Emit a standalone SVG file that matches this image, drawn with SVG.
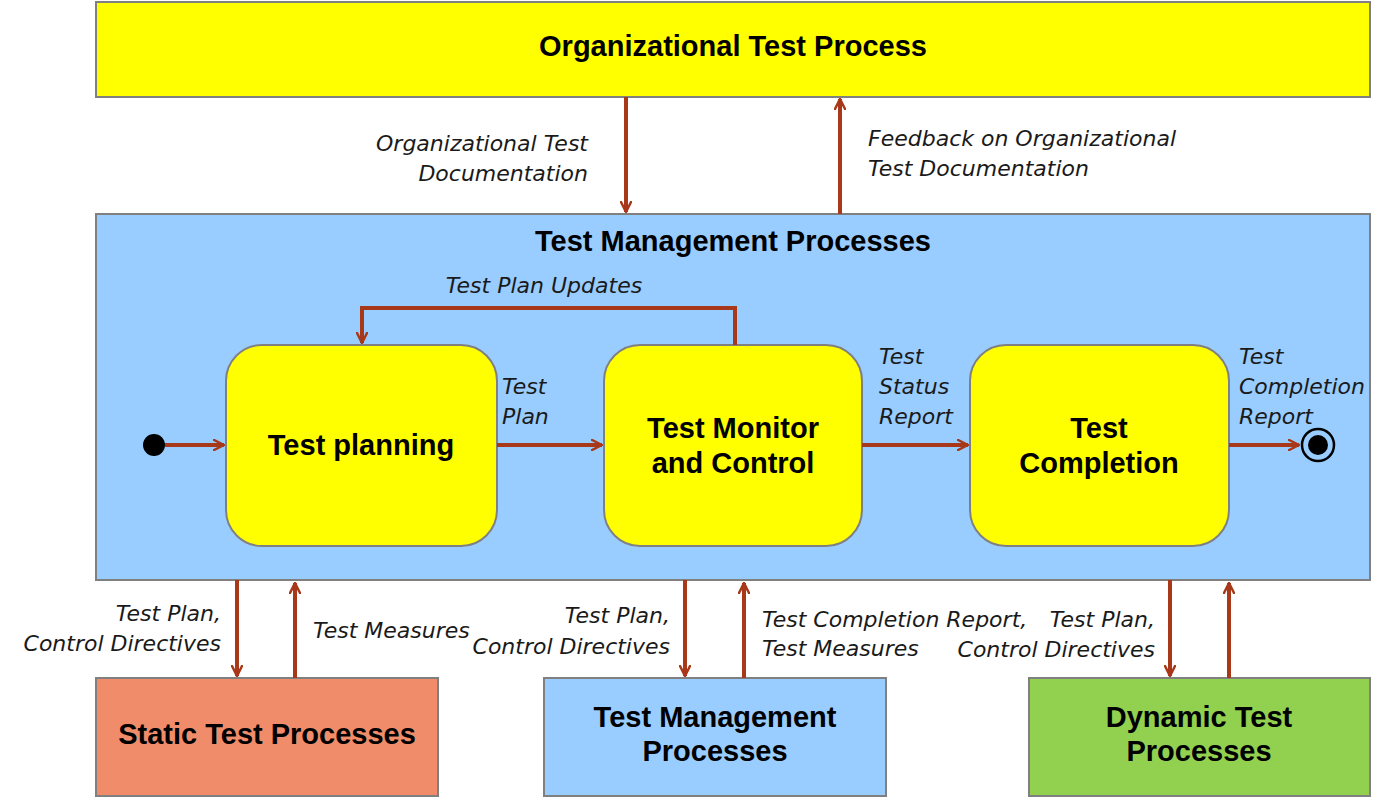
<svg xmlns="http://www.w3.org/2000/svg" width="1396" height="798" viewBox="0 0 1396 798">
<defs>
<marker id="ah" viewBox="0 0 12 12" refX="11" refY="6" markerWidth="12" markerHeight="12" markerUnits="userSpaceOnUse" orient="auto">
<path d="M1,1 L11,6 L1,11" fill="none" stroke="#A8381A" stroke-width="2.5" stroke-linecap="round" stroke-linejoin="round"/>
</marker>
<style>
.box{stroke:#808080;stroke-width:2}
.t{font-family:"Liberation Sans",Arial,sans-serif;font-weight:bold;font-size:29px;fill:#000;text-anchor:middle}
.l{font-family:"DejaVu Sans",Verdana,sans-serif;font-style:italic;font-size:22px;fill:#1a1a1a}
.c{fill:none;stroke:#A8381A;stroke-width:4;marker-end:url(#ah)}
</style>
</defs>
<rect width="1396" height="798" fill="#fff"/>
<g id="org"><rect class="box" x="96" y="2" width="1274" height="95" fill="#FFFF00"/><text class="t" x="733" y="56">Organizational Test Process</text></g>
<g id="tmp"><rect class="box" x="96" y="214" width="1274" height="366" fill="#99CCFF"/><text class="t" x="733" y="251">Test Management Processes</text></g>
<g id="planning"><rect class="box" x="226" y="345" width="271" height="201" rx="36" fill="#FFFF00"/><text class="t" x="361" y="455">Test planning</text></g>
<g id="monitor"><rect class="box" x="604" y="345" width="258" height="201" rx="36" fill="#FFFF00"/><text class="t" x="733" y="438">Test Monitor</text><text class="t" x="733" y="473">and Control</text></g>
<g id="completion"><rect class="box" x="970" y="345" width="259" height="201" rx="36" fill="#FFFF00"/><text class="t" x="1099" y="438">Test</text><text class="t" x="1099" y="473">Completion</text></g>
<g id="static"><rect class="box" x="96" y="678" width="342" height="118" fill="#F08C6A"/><text class="t" x="267" y="744">Static Test Processes</text></g>
<g id="tmp2"><rect class="box" x="544" y="678" width="342" height="118" fill="#99CCFF"/><text class="t" x="715" y="727">Test Management</text><text class="t" x="715" y="761">Processes</text></g>
<g id="dynamic"><rect class="box" x="1029" y="678" width="341" height="118" fill="#92D050"/><text class="t" x="1199" y="727">Dynamic Test</text><text class="t" x="1199" y="761">Processes</text></g>
<g id="start"><circle cx="154" cy="445" r="11" fill="#000"/></g>
<g id="end"><circle cx="1318" cy="445" r="16" fill="none" stroke="#000" stroke-width="2.5"/><circle cx="1318" cy="445" r="10" fill="#000"/></g>
<g id="connectors">
<line class="c" x1="626" y1="97" x2="626" y2="212"/>
<line class="c" x1="840" y1="214" x2="840" y2="99"/>
<polyline class="c" points="735,345 735,308 362,308 362,343"/>
<line class="c" x1="165" y1="445" x2="224" y2="445"/>
<line class="c" x1="497" y1="445" x2="602" y2="445"/>
<line class="c" x1="862" y1="445" x2="968" y2="445"/>
<line class="c" x1="1229" y1="445" x2="1299" y2="445"/>
<line class="c" x1="237" y1="580" x2="237" y2="676"/>
<line class="c" x1="295" y1="678" x2="295" y2="583"/>
<line class="c" x1="685" y1="580" x2="685" y2="676"/>
<line class="c" x1="744" y1="678" x2="744" y2="583"/>
<line class="c" x1="1170" y1="580" x2="1170" y2="676"/>
<line class="c" x1="1229" y1="678" x2="1229" y2="583"/>
</g>
<g id="labels">
<text class="l" x="588" y="151" text-anchor="end">Organizational Test</text>
<text class="l" x="588" y="181" text-anchor="end">Documentation</text>
<text class="l" x="868" y="146">Feedback on Organizational</text>
<text class="l" x="868" y="176">Test Documentation</text>
<text class="l" x="544" y="293" text-anchor="middle">Test Plan Updates</text>
<text class="l" x="502" y="394">Test</text>
<text class="l" x="502" y="424">Plan</text>
<text class="l" x="879" y="364">Test</text>
<text class="l" x="879" y="394">Status</text>
<text class="l" x="879" y="424">Report</text>
<text class="l" x="1239" y="364">Test</text>
<text class="l" x="1239" y="394">Completion</text>
<text class="l" x="1239" y="424">Report</text>
<text class="l" x="221" y="621" text-anchor="end">Test Plan,</text>
<text class="l" x="221" y="651" text-anchor="end">Control Directives</text>
<text class="l" x="313" y="638">Test Measures</text>
<text class="l" x="670" y="623" text-anchor="end">Test Plan,</text>
<text class="l" x="670" y="654" text-anchor="end">Control Directives</text>
<text class="l" x="762" y="627">Test Completion Report,</text>
<text class="l" x="762" y="656">Test Measures</text>
<text class="l" x="1155" y="627" text-anchor="end">Test Plan,</text>
<text class="l" x="1155" y="657" text-anchor="end">Control Directives</text>
</g>
</svg>
